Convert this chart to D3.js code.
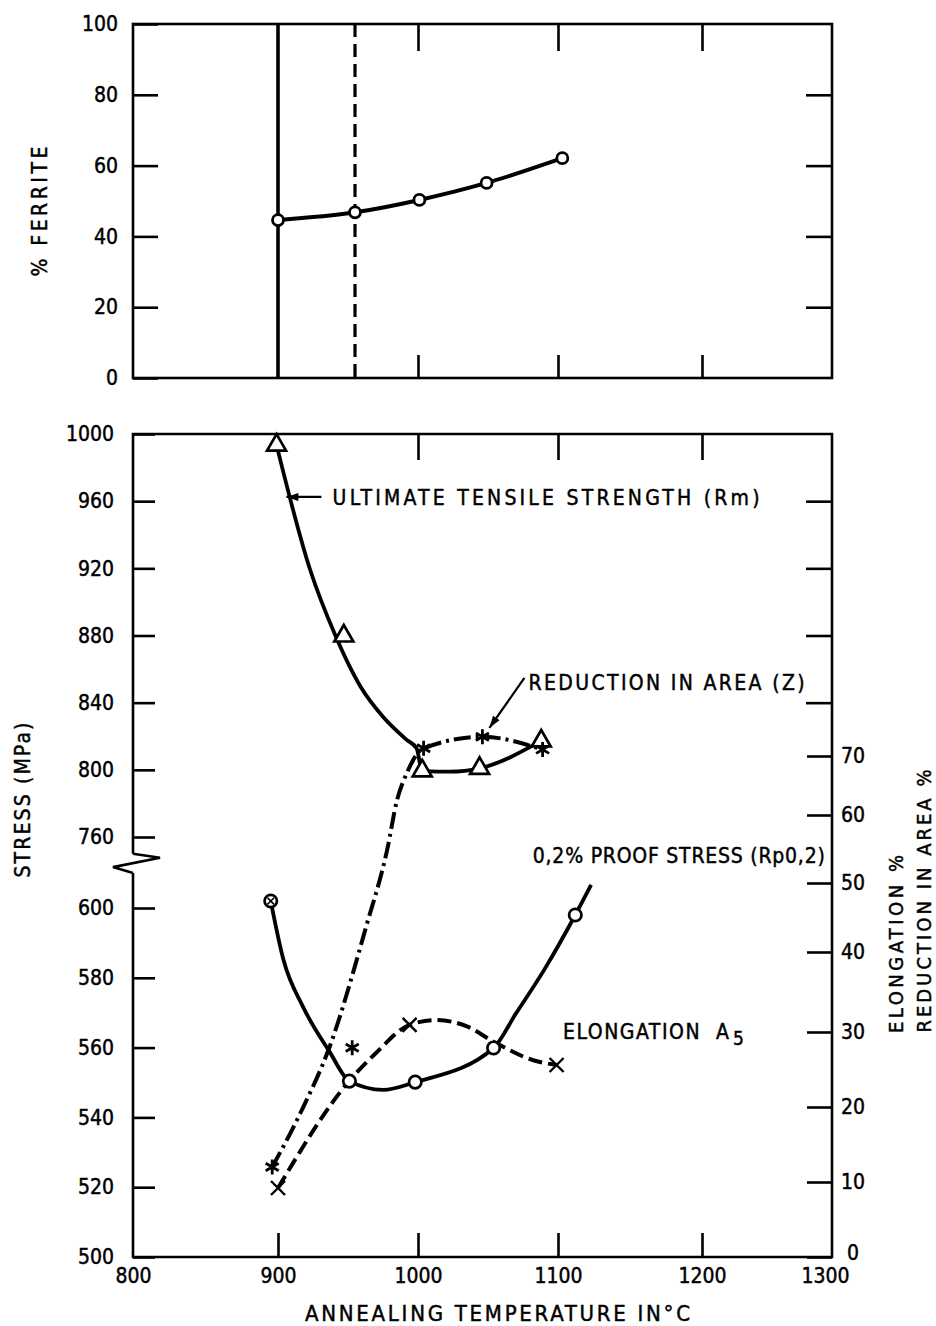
<!DOCTYPE html>
<html><head><meta charset="utf-8">
<script src="https://cdn.jsdelivr.net/npm/d3@7"></script>
<style>body{margin:0;background:#fff}svg{display:block}</style>
</head><body><svg id="c" width="936" height="1326"></svg>
<script>
// ---------------- DATA ----------------
const xTicks = [800, 900, 1000, 1100, 1200, 1300];
const ferriteTicks = [0, 20, 40, 60, 80, 100];
const stressUpperTicks = [760, 800, 840, 880, 920, 960, 1000];
const stressLowerTicks = [500, 520, 540, 560, 580, 600];
const rightTicks = [0, 10, 20, 30, 40, 50, 60, 70];

// % ferrite (top panel)
const ferriteTemp = [900, 955, 1001, 1049, 1103];
const ferriteVal = [44.6, 46.8, 50.3, 55.1, 62.1];
const solidLimitTemp = 900;
const dashedLimitTemp = 955;

// Ultimate tensile strength Rm (MPa) - triangles
const utsTemp = [899, 947, 1003, 1044, 1088];
const utsVal = [993.4, 879.7, 799.4, 800.9, 817.2];
const utsCurveTemp = [899, 923, 941, 959, 975, 992, 999, 1003, 1023, 1044, 1088];
const utsCurveVal = [993.4, 919, 880, 849.5, 831.6, 817.8, 812.8, 799.4, 798.9, 800.9, 817.2];

// 0,2% proof stress Rp0,2 (MPa) - circles
const proofTemp = [895, 951, 998, 1054, 1112];
const proofVal = [602, 550.4, 550.1, 559.9, 598];
const proofCurveTemp = [895, 904, 918, 937, 951, 975, 998, 1054, 1070, 1090, 1112, 1123];
const proofCurveVal = [602, 585, 571.6, 558.7, 550.4, 547.9, 550.1, 559.9, 569.8, 582.2, 598, 606.6];

// Reduction in area Z (%) - stars
const zTemp = [896, 953, 1004, 1046, 1089];
const zVal = [12, 27.9, 71.2, 73, 71];
const zCurveTemp = [896, 916, 937, 963, 978, 985, 992, 1004, 1046, 1089];
const zCurveVal = [12, 19.2, 28.1, 43.7, 54.9, 62.5, 67.1, 71.2, 73, 71];

// Elongation A5 (%) - crosses
const elongTemp = [900, 994, 1099];
const elongVal = [9.2, 30.9, 25.6];
const elongCurveTemp = [900, 951, 970, 994, 1013, 1035, 1055, 1083, 1099];
const elongCurveVal = [9.2, 23.5, 27.2, 30.9, 31.5, 30.7, 28.6, 26.2, 25.6];

// ---------------- LAYOUT ----------------
const F = '"DejaVu Sans Condensed","DejaVu Sans",sans-serif';
const svg = d3.select("#c");
svg.append("rect").attr("width", 936).attr("height", 1326).attr("fill", "#fff");

const x = d3.scaleLinear().domain(xTicks).range([133, 278, 418, 558, 702, 832]);
const yF = d3.scaleLinear([0, 100], [378, 24]);
const yUp = d3.scaleLinear([760, 1000], [837, 434]);
const yLow = d3.scaleLinear([500, 600], [1257, 908]);
const yR = d3.scaleLinear(rightTicks.concat([80]), [1257, 1182, 1107, 1032, 952, 883, 815, 756, 692]);

const AX = 2.6;
const TS = 0.45; // slight text stroke to mimic heavy lettering
function styleAxis(g, fs) {
  g.select(".domain").remove();
  g.attr("font-family", null).attr("font-size", null);
  g.selectAll(".tick line").attr("stroke", "#000").attr("stroke-width", AX);
  g.selectAll("text").attr("font-family", F).attr("font-size", fs || 21).attr("fill", "#000")
    .attr("stroke", "#000").attr("stroke-width", TS);
}
const noLab = () => "";

// ---------- TOP PANEL ----------
svg.append("rect").attr("x", x(800)).attr("y", yF(100)).attr("width", x(1300) - x(800)).attr("height", yF(0) - yF(100))
  .attr("fill", "none").attr("stroke", "#000").attr("stroke-width", AX);
svg.append("g").attr("transform", `translate(${x(800)},0)`)
  .call(d3.axisLeft(yF).tickValues(ferriteTicks).tickSize(-25).tickPadding(15).tickFormat(d3.format("d"))).call(styleAxis);
svg.append("g").attr("transform", `translate(${x(1300)},0)`)
  .call(d3.axisRight(yF).tickValues([20, 40, 60, 80]).tickSize(-26).tickFormat(noLab)).call(styleAxis);
svg.append("g").attr("transform", `translate(0,${yF(100)})`)
  .call(d3.axisBottom(x).tickValues([1000, 1100, 1200]).tickSize(27).tickFormat(noLab)).call(styleAxis);
svg.append("g").attr("transform", `translate(0,${yF(0)})`)
  .call(d3.axisTop(x).tickValues([1000, 1100, 1200]).tickSize(23).tickFormat(noLab)).call(styleAxis);

svg.append("line").attr("x1", x(solidLimitTemp)).attr("x2", x(solidLimitTemp)).attr("y1", yF(100)).attr("y2", yF(0))
  .attr("stroke", "#000").attr("stroke-width", 3.6);
svg.append("line").attr("x1", x(dashedLimitTemp)).attr("x2", x(dashedLimitTemp)).attr("y1", yF(100)).attr("y2", yF(0))
  .attr("stroke", "#000").attr("stroke-width", 3.2).attr("stroke-dasharray", "13,7");

const smooth = d3.line().curve(d3.curveMonotoneX);
svg.append("path").attr("d", smooth(ferriteTemp.map((t, i) => [x(t), yF(ferriteVal[i])])))
  .attr("fill", "none").attr("stroke", "#000").attr("stroke-width", 4);
svg.append("g").selectAll("circle").data(ferriteTemp).join("circle")
  .attr("cx", d => x(d)).attr("cy", (d, i) => yF(ferriteVal[i])).attr("r", 5.5)
  .attr("fill", "#fff").attr("stroke", "#000").attr("stroke-width", 2.8);

svg.append("text").attr("transform", `translate(39,${yF(47)}) rotate(-90)`).attr("text-anchor", "middle").attr("dy", "0.36em")
  .attr("font-family", F).attr("font-size", 21).attr("stroke", "#000").attr("stroke-width", TS)
  .attr("textLength", 130).attr("lengthAdjust", "spacing").text("% FERRITE");

// ---------- BOTTOM PANEL ----------
const bTop = yUp(750), bBot = yLow(610);
svg.append("path")
  .attr("d", `M${x(800)},${bTop}V${yUp(1000)}H${x(1300)}V${yLow(500)}H${x(800)}V${bBot}`)
  .attr("fill", "none").attr("stroke", "#000").attr("stroke-width", AX);
svg.append("path")
  .attr("d", `M${x(800)},${bTop}L${x(800) + 27},${bTop + 4}L${x(800) - 20},${bBot - 6}L${x(800)},${bBot}`)
  .attr("fill", "none").attr("stroke", "#000").attr("stroke-width", AX);

svg.append("g").attr("transform", `translate(${x(800)},0)`)
  .call(d3.axisLeft(yUp).tickValues(stressUpperTicks).tickSize(-22).tickPadding(19).tickFormat(d3.format("d"))).call(styleAxis);
svg.append("g").attr("transform", `translate(${x(800)},0)`)
  .call(d3.axisLeft(yLow).tickValues(stressLowerTicks).tickSize(-22).tickPadding(19).tickFormat(d3.format("d"))).call(styleAxis);
const rAx = svg.append("g").attr("transform", `translate(${x(1300)},0)`)
  .call(d3.axisRight(yR).tickValues(rightTicks).tickSize(-25).tickPadding(9).tickFormat(d3.format("d"))).call(styleAxis);
rAx.selectAll(".tick").filter(d => d === 0).select("text").attr("x", 15).attr("dy", "0.1em");
svg.append("g").attr("transform", `translate(${x(1300)},0)`)
  .call(d3.axisRight(yUp).tickValues([840, 880, 920, 960]).tickSize(-26).tickFormat(noLab)).call(styleAxis);
svg.append("g").attr("transform", `translate(0,${yUp(1000)})`)
  .call(d3.axisBottom(x).tickValues([1000, 1100, 1200]).tickSize(26).tickFormat(noLab)).call(styleAxis);
svg.append("g").attr("transform", `translate(0,${yLow(500)})`)
  .call(d3.axisTop(x).tickValues([900, 1000, 1100, 1200]).tickSize(24).tickFormat(noLab)).call(styleAxis);
const bAx = svg.append("g").attr("transform", `translate(0,${yLow(500)})`)
  .call(d3.axisBottom(x).tickValues(xTicks).tickSize(0).tickPadding(11).tickFormat(d3.format("d"))).call(styleAxis);
bAx.selectAll(".tick").filter(d => d === 1300).select("text").attr("x", -7);

// curves
function curve(ts, vs, ys, dash, w) {
  const p = svg.append("path").attr("d", smooth(ts.map((t, i) => [x(t), ys(vs[i])])))
    .attr("fill", "none").attr("stroke", "#000").attr("stroke-width", w).attr("stroke-linecap", "butt");
  if (dash) p.attr("stroke-dasharray", dash);
}
curve(utsCurveTemp, utsCurveVal, yUp, null, 3.8);
curve(proofCurveTemp, proofCurveVal, yLow, null, 3.8);
curve(zCurveTemp, zCurveVal, yR, "17,5,3,5", 4);
curve(elongCurveTemp, elongCurveVal, yR, "14,6", 4);

// markers
const mk = svg.append("g").attr("stroke", "#000").attr("stroke-width", 2.7).attr("fill", "#fff");
mk.selectAll(".tri").data(utsTemp).join("path").attr("class", "tri")
  .attr("transform", (d, i) => `translate(${x(d)},${yUp(utsVal[i])})`)
  .attr("d", "M0,-11L9.5,5.5L-9.5,5.5Z");
mk.selectAll(".circ").data(proofTemp).join("circle").attr("class", "circ")
  .attr("cx", d => x(d)).attr("cy", (d, i) => yLow(proofVal[i])).attr("r", 6.2);
mk.append("path").attr("transform", `translate(${x(proofTemp[0])},${yLow(proofVal[0])})`)
  .attr("d", "M-3.3,-3.3L3.3,3.3M-3.3,3.3L3.3,-3.3").attr("stroke-width", 1.6);
mk.selectAll(".star").data(zTemp).join("path").attr("class", "star")
  .attr("transform", (d, i) => `translate(${x(d)},${yR(zVal[i])})`)
  .attr("d", "M0,-7.5L0,7.5M-6.5,-3.75L6.5,3.75M-6.5,3.75L6.5,-3.75").attr("stroke-width", 2.8);
mk.selectAll(".cross").data(elongTemp).join("path").attr("class", "cross")
  .attr("transform", (d, i) => `translate(${x(d)},${yR(elongVal[i])})`)
  .attr("d", "M-7,-7L7,7M-7,7L7,-7").attr("stroke-width", 2.4);

// arrows
function arrow(x1, y1, x2, y2) {
  svg.append("line").attr("x1", x1).attr("y1", y1).attr("x2", x2).attr("y2", y2)
    .attr("stroke", "#000").attr("stroke-width", 2.2);
  const a = Math.atan2(y2 - y1, x2 - x1), L = 12, W = 4;
  const bx = x2 - L * Math.cos(a), by = y2 - L * Math.sin(a);
  svg.append("path").attr("d", `M${x2},${y2}L${bx - W * Math.sin(a)},${by + W * Math.cos(a)}L${bx + W * Math.sin(a)},${by - W * Math.cos(a)}Z`)
    .attr("fill", "#000");
}
arrow(x(931), yUp(962.5), x(906), yUp(962.5));
arrow(x(1076), yUp(854.7), x(1051), yUp(825));

// labels
function label(txt, px, py, len, anchor) {
  return svg.append("text").attr("x", px).attr("y", py).attr("dy", "0.36em").attr("text-anchor", anchor || "start")
    .attr("font-family", F).attr("font-size", 21).attr("fill", "#000").attr("stroke", "#000").attr("stroke-width", TS)
    .attr("textLength", len).attr("lengthAdjust", "spacing").text(txt);
}
label("ULTIMATE TENSILE STRENGTH (Rm)", x(939), yUp(962.5), 427);
label("REDUCTION IN AREA (Z)", x(1079), yUp(852.3), 276);
label("0,2% PROOF STRESS (Rp0,2)", x(1082), yR(54.1), 292);
label("ELONGATION\u00A0\u00A0A", x(1103.5), yR(30.1), 166);
svg.append("text").attr("x", x(1103.5) + 170).attr("y", yR(30.1) + 14).attr("font-family", F).attr("font-size", 19)
  .attr("fill", "#000").attr("stroke", "#000").attr("stroke-width", TS).text("5");

// axis titles
function vtitle(txt, cx, cy, len, fs) {
  svg.append("text").attr("transform", `translate(${cx},${cy}) rotate(-90)`).attr("text-anchor", "middle").attr("dy", "0.36em")
    .attr("font-family", F).attr("font-size", fs || 21).attr("fill", "#000").attr("stroke", "#000").attr("stroke-width", TS)
    .attr("textLength", len).attr("lengthAdjust", "spacing").text(txt);
}
vtitle("STRESS (MPa)", 22, 800, 155);
vtitle("ELONGATION %", 896, 944, 178, 20);
vtitle("REDUCTION IN AREA %", 924, 901, 263, 20);
svg.append("text").attr("x", 305).attr("y", 1321).attr("font-family", F).attr("font-size", 22).attr("fill", "#000")
  .attr("stroke", "#000").attr("stroke-width", TS)
  .attr("textLength", 385).attr("lengthAdjust", "spacing").text("ANNEALING TEMPERATURE IN°C");
</script></body></html>
